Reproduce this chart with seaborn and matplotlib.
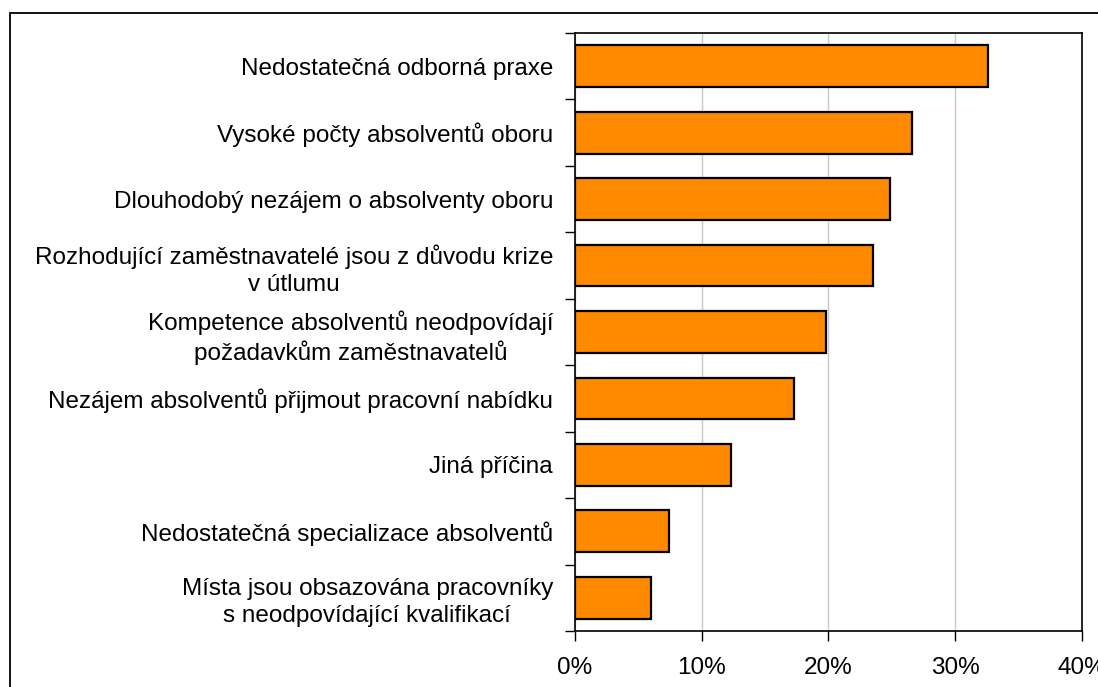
import matplotlib
matplotlib.use("Agg")
import matplotlib.pyplot as plt
import seaborn as sns
import pandas as pd
import numpy as np
from matplotlib.patches import Rectangle
from matplotlib.ticker import FixedLocator, PercentFormatter

categories = [
    "Nedostatečná odborná praxe",
    "Vysoké počty absolventů oboru",
    "Dlouhodobý nezájem o absolventy oboru",
    "Rozhodující zaměstnavatelé jsou z důvodu krize\nv útlumu",
    "Kompetence absolventů neodpovídají\npožadavkům zaměstnavatelů",
    "Nezájem absolventů přijmout pracovní nabídku",
    "Jiná příčina",
    "Nedostatečná specializace absolventů",
    "Místa jsou obsazována pracovníky\ns neodpovídající kvalifikací",
]
values = [32.6, 26.6, 24.9, 23.5, 19.8, 17.3, 12.3, 7.4, 6.0]
x_ticks = [0, 10, 20, 30, 40]

sns.set_theme(style="white")
plt.rcParams["font.family"] = ["Liberation Sans", "DejaVu Sans"]
plt.rcParams["text.color"] = "black"
plt.rcParams["xtick.color"] = "black"
plt.rcParams["ytick.color"] = "black"

df = pd.DataFrame({"category": categories, "value": values})

fig = plt.figure(figsize=(10.98, 6.87), dpi=100)
ax = fig.add_axes([574.7 / 1098, 1 - 631 / 687, (1082 - 574.7) / 1098, (631 - 33) / 687])

sns.barplot(data=df, x="value", y="category", orient="h", color="#FF8A00",
            saturation=1, edgecolor="black", linewidth=1.6, width=0.63, ax=ax)

ax.set_xlim(0, 40)
ax.set_ylim(len(categories) - 0.5, -0.5)
ax.set_xticks(x_ticks)
ax.xaxis.set_major_formatter(PercentFormatter(decimals=0))
ax.set_xlabel("")
ax.set_ylabel("")
ax.grid(axis="x", color="#C8C8C8", linewidth=1)
ax.set_axisbelow(True)
for s in ax.spines.values():
    s.set_visible(True)
    s.set_color("black")
    s.set_linewidth(1.2)

ax.tick_params(axis="x", which="major", direction="out", length=7, width=1,
               color="black", labelcolor="black", labelsize=17.5, pad=11.5, bottom=True)
ax.tick_params(axis="y", which="major", length=0, labelsize=17.5, labelcolor="black", pad=15.6)
ax.yaxis.set_minor_locator(FixedLocator(np.arange(-0.5, len(categories), 1.0)))
ax.tick_params(axis="y", which="minor", direction="out", length=7, width=1,
               color="black", left=True)
for lbl in ax.get_yticklabels():
    lbl.set_multialignment("center")
    lbl.set_linespacing(1.3)

fig.patches.append(Rectangle((10 / 1098, -0.1), 1.2, 1 - 13 / 687 + 0.1,
                             transform=fig.transFigure, fill=False,
                             edgecolor="black", linewidth=1.3))

fig.savefig("out.png", dpi=100)
